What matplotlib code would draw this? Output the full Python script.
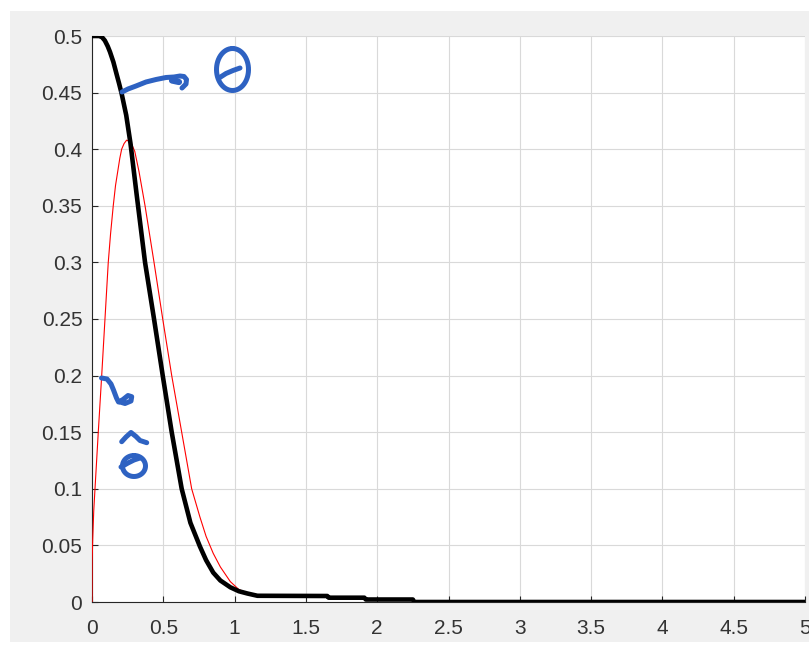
import numpy as np
import matplotlib
matplotlib.use("Agg")
import matplotlib.pyplot as plt
from matplotlib.lines import Line2D
from matplotlib.patches import Rectangle

# True parameter trajectory (thick black)
theta_t = [0, 0.05, 0.07, 0.09, 0.11, 0.126, 0.15, 0.173, 0.19, 0.208, 0.24, 0.27,
           0.313, 0.372, 0.435, 0.496, 0.559, 0.629, 0.69, 0.757, 0.80, 0.85, 0.90,
           0.97, 1.03, 1.09, 1.16, 1.65, 1.66, 1.91, 1.92, 2.25, 2.26, 5.0]
theta_v = [0.5, 0.5, 0.499, 0.496, 0.491, 0.486, 0.477, 0.466, 0.458, 0.449, 0.43, 0.405,
           0.36, 0.30, 0.25, 0.20, 0.15, 0.10, 0.07, 0.049, 0.037, 0.026, 0.019,
           0.013, 0.0095, 0.0075, 0.0055, 0.0053, 0.0038, 0.0038, 0.0022, 0.0022, 0.0, 0.0]

# Estimated parameter trajectory (thin red)
est_t = [0, 0.001, 0.005, 0.012, 0.021, 0.044, 0.068, 0.091, 0.114, 0.13, 0.149,
         0.165, 0.18, 0.195, 0.208, 0.225, 0.243, 0.26, 0.28, 0.30, 0.33, 0.372,
         0.435, 0.496, 0.559, 0.629, 0.699, 0.757, 0.80, 0.85, 0.90, 0.97, 1.03,
         1.09, 1.16, 1.65, 1.66, 1.91, 1.92, 2.25, 2.26, 5.0]
est_v = [0, 0.037, 0.055, 0.08, 0.10, 0.15, 0.20, 0.25, 0.30, 0.325, 0.35,
         0.368, 0.38, 0.392, 0.40, 0.405, 0.408, 0.407, 0.404, 0.398, 0.38, 0.35,
         0.30, 0.25, 0.20, 0.15, 0.10, 0.075, 0.058, 0.043, 0.031, 0.018, 0.011,
         0.0078, 0.0055, 0.0053, 0.0038, 0.0038, 0.0022, 0.0022, 0.0, 0.0]

x_ticks = [0, 0.5, 1, 1.5, 2, 2.5, 3, 3.5, 4, 4.5, 5]
x_labels = ["0", "0.5", "1", "1.5", "2", "2.5", "3", "3.5", "4", "4.5", "5"]
y_ticks = [0, 0.05, 0.1, 0.15, 0.2, 0.25, 0.3, 0.35, 0.4, 0.45, 0.5]
y_labels = ["0", "0.05", "0.1", "0.15", "0.2", "0.25", "0.3", "0.35", "0.4", "0.45", "0.5"]

W, H = 809, 645
fig = plt.figure(figsize=(W / 100, H / 100), dpi=100, facecolor="white")
fig.patches.append(Rectangle((10 / W, 1 - 642 / H), 1, (642 - 11) / H,
                             transform=fig.transFigure, facecolor="#f0f0f0",
                             edgecolor="none", zorder=-10))

ax = fig.add_axes([92 / W, 1 - 602 / H, (805 - 92) / W, (602 - 36) / H])
ax.set_facecolor("white")

ax.plot(est_t, est_v, color="#ff0000", lw=0.8, zorder=3)
ax.plot(theta_t, theta_v, color="black", lw=3.3, zorder=4)

ax.set_xlim(0, 5)
ax.set_ylim(0, 0.5)
ax.set_xticks(x_ticks)
ax.set_xticklabels(x_labels)
ax.set_yticks(y_ticks)
ax.set_yticklabels(y_labels)
ax.grid(True, color="#d9d9d9", lw=0.8)
ax.set_axisbelow(True)

for side in ("top", "right"):
    ax.spines[side].set_visible(False)
for side in ("left", "bottom"):
    ax.spines[side].set_color("#262626")
    ax.spines[side].set_linewidth(0.8)

ax.tick_params(axis="both", direction="in", length=4, width=0.8, color="#262626",
               labelcolor="#333333", labelsize=15)
ax.tick_params(axis="x", pad=12)
ax.tick_params(axis="y", pad=7)
for lab in ax.get_xticklabels() + ax.get_yticklabels():
    lab.set_fontfamily(["Liberation Sans", "DejaVu Sans"])

# Hand-drawn ink annotations (pixel coordinates on the canvas)
ink = "#2e62c2"


def stroke(pts, lw=3.6):
    xs = [p[0] / W for p in pts]
    ys = [1 - p[1] / H for p in pts]
    fig.add_artist(Line2D(xs, ys, transform=fig.transFigure, color=ink, lw=lw,
                          solid_capstyle="round", solid_joinstyle="round", zorder=10))


# arrow pointing to the thick curve's label
stroke([(122, 92), (128, 89), (136, 86), (146, 82), (156, 79.5), (166, 77.5),
        (174, 77), (180, 76), (184, 76.5), (186.5, 79.5), (186, 84), (182, 88)])
stroke([(172, 80.5), (179, 82)], lw=4.5)

# big theta
ang = np.linspace(0, 2 * np.pi, 60)
stroke(list(zip(232.5 + 16 * np.sin(ang), 69.5 - 21 * np.cos(ang))))
stroke([(219, 78), (226, 73.5), (233, 70.5), (240, 68)])

# squiggle pointing to the thin curve's label
stroke([(101.5, 378), (107, 379), (111, 384), (113.5, 390), (116.5, 398),
        (118.5, 402), (123, 399.5), (128, 395.5), (131.7, 396.7), (131, 401),
        (125, 403.5), (120, 402)])

# hat
stroke([(121.7, 441.7), (126, 437), (131, 432.5), (136, 436.5), (140, 440.5),
        (146.7, 442.7)])

# small theta
stroke(list(zip(134 + 11.5 * np.sin(ang), 466 - 10.5 * np.cos(ang))))
stroke([(121, 467), (128, 463), (134, 460), (140, 458)])

fig.savefig("out.png", dpi=100, facecolor="white")
